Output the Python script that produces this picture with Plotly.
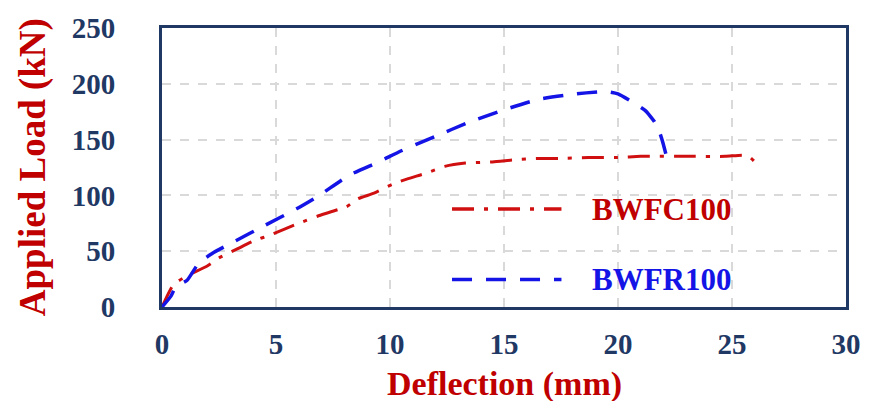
import plotly.graph_objects as go

# BWFC100 (red, dash-dot)
fc_x = [0, 0.5, 1.1, 2.0, 2.5, 3.3, 4.0, 4.8, 6.0, 6.9, 8.1, 8.6, 9.3, 10.1, 10.8, 11.6,
        12.4, 13.3, 14.5, 15.5, 16.4, 17.4, 18.7, 20.0, 21.0, 23.0, 24.7, 25.5, 25.8, 26.0]
fc_y = [0, 20, 28, 37, 44, 52, 59, 65, 75, 82, 90, 97, 102, 110, 115, 120,
        126, 129, 130, 132, 133, 133, 134, 134, 135, 135, 135, 136, 134, 130]

# BWFR100 (blue, dashed)
fr_x = [0, 0.4, 0.6, 1.1, 1.6, 2.2, 3.2, 4.5, 5.9, 6.9, 8.2, 9.5, 10.5, 12.0, 13.4, 14.9,
        16.5, 18.2, 19.5, 20.0, 20.6, 21.2, 21.6, 21.85, 22.0, 22.15]
fr_y = [0, 10, 18, 24, 39, 48, 59, 73, 88, 100, 118, 130, 140, 153, 165, 176,
        186, 191, 193, 191, 184, 176, 166, 155, 145, 133]

series_names = ["BWFC100", "BWFR100"]
x_ticks = [0, 5, 10, 15, 20, 25, 30]
y_ticks = [0, 50, 100, 150, 200, 250]

RED = "#C00000"
LINE_RED = "#D01010"
BLUE = "#1414E6"
NAVY = "#1F3864"
FONT = "Liberation Serif"
DASH_RED = "22px,10px,4px,10px"
DASH_BLUE = "20px,14px"

fig = go.Figure()
fig.add_trace(go.Scatter(
    x=fc_x, y=fc_y, mode="lines", name=series_names[0],
    line=dict(color=LINE_RED, width=3, dash=DASH_RED, shape="spline", smoothing=0.5),
))
fig.add_trace(go.Scatter(
    x=fr_x, y=fr_y, mode="lines", name=series_names[1],
    line=dict(color=BLUE, width=3.5, dash=DASH_BLUE, shape="spline", smoothing=0.5),
))

axis_common = dict(
    showline=True, linewidth=3, linecolor=NAVY, mirror=True,
    showgrid=True, gridcolor="#D9D9D9", gridwidth=2, griddash="dash",
    zeroline=False, ticks="",
    tickfont=dict(family=FONT, size=29, color=NAVY, weight="bold"),
)

fig.update_xaxes(range=[0, 30], tickvals=x_ticks, ticklabelstandoff=9, **axis_common)
fig.update_yaxes(range=[0, 250], tickvals=y_ticks, ticklabelstandoff=38, **axis_common)

# manual legend (long sample lines like the reference)
legend_items = [
    (series_names[0], LINE_RED, RED, DASH_RED, 0.351),
    (series_names[1], BLUE, BLUE, DASH_BLUE, 0.099),
]
shapes = []
annotations = []
for name, lcol, tcol, dash, yy in legend_items:
    shapes.append(dict(type="line", xref="paper", yref="paper",
                       x0=0.424, x1=0.584, y0=yy, y1=yy,
                       line=dict(color=lcol, width=3.5, dash=dash)))
    annotations.append(dict(text=f"<b>{name}</b>", xref="paper", yref="paper",
                            x=0.626, y=yy, xanchor="left", yanchor="middle",
                            showarrow=False,
                            font=dict(family=FONT, size=31, color=tcol)))

annotations += [
    dict(text="<b>Deflection (mm)</b>", xref="paper", yref="paper",
         x=0.5, y=-0.277, xanchor="center", yanchor="middle", showarrow=False,
         font=dict(family=FONT, size=34, color=RED)),
    dict(text="<b>Applied Load (kN)</b>", xref="paper", yref="paper",
         x=-0.189, y=0.5, xanchor="center", yanchor="middle", showarrow=False,
         textangle=-90, font=dict(family=FONT, size=37, color=RED)),
]

fig.update_layout(
    width=873, height=401,
    margin=dict(l=162, r=24, t=25, b=94),
    paper_bgcolor="white", plot_bgcolor="white",
    showlegend=False,
    shapes=shapes,
    annotations=annotations,
)

fig.write_html("out.html")
